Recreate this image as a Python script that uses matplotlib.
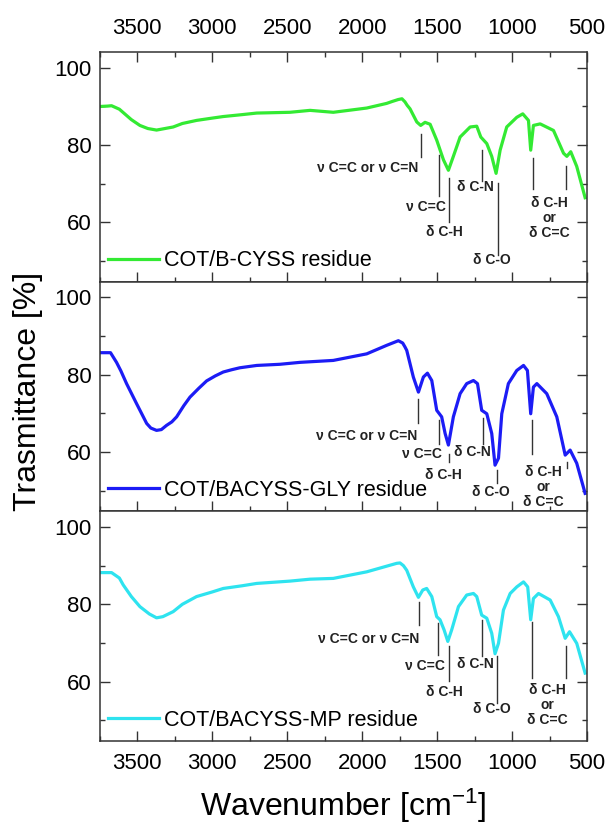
import matplotlib
matplotlib.use("Agg")
import matplotlib.pyplot as plt
from matplotlib.ticker import MultipleLocator

plt.rcParams['font.family'] = ['Liberation Sans', 'DejaVu Sans']
plt.rcParams['mathtext.fontset'] = 'custom'
plt.rcParams['mathtext.rm'] = 'Liberation Sans'
plt.rcParams['mathtext.it'] = 'Liberation Sans'

# wavenumber [cm-1] and transmittance [%]
wn_cyss = [3750, 3700, 3672, 3620, 3540, 3483, 3430, 3372, 3330, 3261, 3200, 3105, 3000,
           2927, 2800, 2704, 2482, 2348, 2193, 1970, 1837, 1800, 1760, 1735, 1715, 1700,
           1681, 1636, 1610, 1581, 1547, 1503, 1458, 1425, 1392, 1347, 1280, 1236, 1209,
           1169, 1136, 1107, 1080, 1036, 969, 929, 891, 876, 858, 813, 724, 657, 635, 609,
           569, 513]
t_cyss = [90.0, 90.1, 90.2, 89.3, 86.6, 85.1, 84.3, 83.9, 84.2, 84.7, 85.6, 86.4, 87.0,
          87.4, 87.9, 88.3, 88.5, 89.0, 88.5, 89.6, 90.8, 91.3, 91.8, 92.0, 91.2, 90.3,
          89.4, 86.0, 85.1, 85.9, 85.4, 81.3, 76.2, 73.5, 77.1, 82.1, 84.7, 84.9, 82.1,
          80.4, 77.1, 72.7, 78.7, 84.7, 87.2, 88.1, 86.4, 78.7, 85.1, 85.5, 83.8, 77.9,
          77.1, 78.3, 74.5, 66.4]

wn_gly = [3750, 3679, 3639, 3610, 3572, 3505, 3438, 3410, 3372, 3340, 3305, 3270, 3238,
          3190, 3149, 3090, 3038, 2980, 2927, 2870, 2816, 2704, 2600, 2549, 2415, 2193,
          1970, 1837, 1759, 1730, 1715, 1703, 1659, 1625, 1592, 1565, 1536, 1503, 1470,
          1447, 1425, 1392, 1347, 1303, 1258, 1231, 1203, 1169, 1136, 1114, 1091, 1069,
          1025, 969, 924, 898, 876, 858, 835, 769, 702, 646, 613, 569, 513]
t_gly = [85.7, 85.7, 83.2, 81.0, 77.7, 72.5, 67.4, 66.2, 65.6, 65.8, 66.9, 67.8, 69.1,
         72.0, 74.2, 76.5, 78.4, 79.7, 80.7, 81.3, 81.8, 82.4, 82.6, 82.7, 83.2, 83.7,
         85.4, 87.6, 88.8, 88.2, 87.2, 86.3, 79.4, 75.5, 79.4, 80.4, 78.5, 70.8, 69.1,
         64.8, 61.8, 69.1, 75.1, 77.7, 78.5, 77.7, 70.8, 69.9, 64.8, 56.6, 58.4, 69.9,
         77.7, 81.1, 82.4, 81.1, 69.9, 76.8, 77.7, 75.1, 69.1, 59.2, 60.5, 57.1, 49.3]

wn_mp = [3750, 3700, 3672, 3620, 3594, 3540, 3483, 3420, 3372, 3330, 3261, 3200, 3105,
         3000, 2927, 2800, 2704, 2482, 2348, 2193, 1970, 1770, 1748, 1725, 1703, 1659,
         1625, 1596, 1570, 1536, 1503, 1481, 1454, 1429, 1403, 1358, 1303, 1258, 1236,
         1203, 1169, 1136, 1114, 1091, 1058, 1013, 969, 924, 896, 876, 858, 824, 746, 691,
         646, 617, 569, 513]
t_mp = [88.2, 88.2, 88.2, 86.8, 85.0, 82.0, 79.4, 77.5, 76.5, 76.8, 78.1, 80.0, 82.0,
        83.2, 84.1, 84.8, 85.4, 86.0, 86.5, 86.7, 88.4, 90.6, 90.7, 90.0, 88.8, 84.5,
        81.8, 83.7, 84.1, 82.0, 76.8, 76.0, 73.4, 70.4, 73.4, 79.4, 82.4, 82.8, 82.0,
        77.2, 76.4, 72.5, 67.2, 69.9, 78.5, 82.8, 84.5, 85.8, 84.5, 76.0, 81.5, 82.8,
        81.1, 76.8, 71.2, 72.9, 69.9, 62.2]

labels = ["COT/B-CYSS residue", "COT/BACYSS-GLY residue", "COT/BACYSS-MP residue"]
colors = ["#33ea33", "#1c1cf5", "#2ee3ef"]

band_names = ["\u03bd C=C or \u03bd C=N", "\u03bd C=C", "\u03b4 C-H", "\u03b4 C-N",
              "\u03b4 C-O", "\u03b4 C-H\nor\n\u03b4 C=C"]

# marker lines (wavenumber, top, bottom) per panel
marks = [
    [(1610, 83.0, 77.0), (1487, 77.5, 66.9), (1421, 71.5, 60.0), (1200, 78.8, 70.7),
     (1096, 70.3, 51.6), (864, 76.6, 68.6), (640, 74.7, 68.6)],
    [(1625, 73.8, 67.4), (1485, 68.2, 62.2), (1421, 59.6, 57.5), (1196, 68.9, 62.2),
     (1102, 55.3, 51.9), (867, 68.2, 59.6), (635, 57.5, 55.8)],
    [(1619, 80.7, 74.7), (1496, 75.1, 67.0), (1421, 69.1, 60.1), (1198, 75.9, 66.5),
     (1098, 66.5, 54.5), (869, 75.5, 61.0), (640, 69.1, 61.0)],
]
# label anchors (wavenumber, transmittance, horizontal alignment)
label_pos = [
    [(1625, 74.1, 'right'), (1443, 63.9, 'right'), (1454, 57.5, 'center'),
     (1243, 69.2, 'center'), (1136, 50.3, 'center'), (751, 61.1, 'center')],
    [(1632, 64.1, 'right'), (1470, 59.6, 'right'), (1458, 54.0, 'center'),
     (1263, 60.0, 'center'), (1142, 49.6, 'center'), (791, 51.0, 'center')],
    [(1619, 71.1, 'right'), (1447, 64.1, 'right'), (1454, 57.2, 'center'),
     (1243, 64.6, 'center'), (1136, 52.8, 'center'), (764, 53.9, 'center')],
]

xs = [wn_cyss, wn_gly, wn_mp]
ys = [t_cyss, t_gly, t_mp]

fig, axes = plt.subplots(3, 1, figsize=(6.09, 8.32), dpi=100, sharex=True)
fig.subplots_adjust(left=0.164, right=0.964, top=0.9375, bottom=0.1097, hspace=0)

for i, ax in enumerate(axes):
    ax.plot(xs[i], ys[i], color=colors[i], lw=2.3, label=labels[i],
            solid_joinstyle='round')
    ax.set_xlim(3750, 500)
    ax.set_ylim(44.7, 104.1)
    ax.xaxis.set_major_locator(MultipleLocator(500))
    ax.xaxis.set_minor_locator(MultipleLocator(250))
    ax.yaxis.set_major_locator(MultipleLocator(20))
    ax.yaxis.set_minor_locator(MultipleLocator(10))
    ax.set_yticks([60, 80, 100])
    ax.tick_params(which='both', direction='in', right=True, top=(i == 0),
                   width=1, labelsize=16, color='#333333')
    ax.tick_params(which='major', length=7, pad=6)
    ax.tick_params(which='minor', length=3.5)
    ax.tick_params(axis='x', which='major', pad=9)
    if i == 0:
        ax.tick_params(axis='x', labeltop=True, labelbottom=False)
    for s in ax.spines.values():
        s.set_linewidth(1.1)
        s.set_color('#333333')

    for wn, y0, y1 in marks[i]:
        ax.plot([wn, wn], [y0, y1], color='#333333', lw=1)
    for name, (wn, yv, ha) in zip(band_names, label_pos[i]):
        ax.text(wn, yv, name, ha=ha, va='center', fontsize=10, fontweight='bold',
                linespacing=1.1, color='#222222')

    ax.legend(loc='center left', bbox_to_anchor=(0.016, 0.09), frameon=False,
              fontsize=15.5, handlelength=2.4, handletextpad=0.2,
              borderpad=0, borderaxespad=0)

fig.text(0.046, 0.529, "Trasmittance [%]", rotation=90, ha='center', va='center',
         fontsize=23)
fig.text(0.564, 0.032, "Wavenumber [cm$^{-1}$]", ha='center', va='center', fontsize=23)

fig.savefig("out.png", dpi=100)
